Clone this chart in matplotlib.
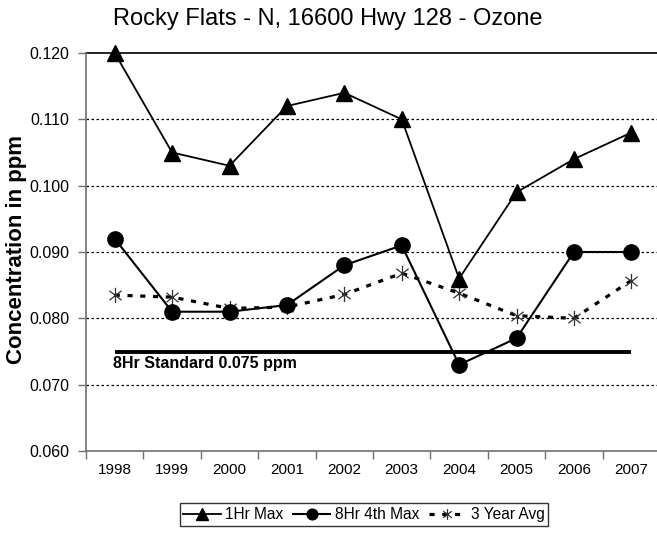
import matplotlib
matplotlib.use("Agg")
import matplotlib.pyplot as plt
from matplotlib.path import Path

# ---- data -------------------------------------------------------------
years = ["1998", "1999", "2000", "2001", "2002", "2003", "2004", "2005", "2006", "2007"]
one_hr_max = [0.120, 0.105, 0.103, 0.112, 0.114, 0.110, 0.086, 0.099, 0.104, 0.108]
eight_hr_4th_max = [0.092, 0.081, 0.081, 0.082, 0.088, 0.091, 0.073, 0.077, 0.090, 0.090]
three_year_avg = [0.0835, 0.0832, 0.0815, 0.0817, 0.0836, 0.0868, 0.0838, 0.0804, 0.0800, 0.0857]
standard_8hr = 0.075
y_ticks = [0.060, 0.070, 0.080, 0.090, 0.100, 0.110, 0.120]

FONT = ["Liberation Sans", "DejaVu Sans"]
plt.rcParams["font.family"] = FONT

W, H = 657, 533
fig = plt.figure(figsize=(W / 100, H / 100), dpi=100)

# plot area in pixel coordinates (left, top, right, bottom)
left, top, right, bottom = 86, 53, 660, 451
ax = fig.add_axes([left / W, 1 - bottom / H, (right - left) / W, (bottom - top) / H])

x = list(range(len(years)))

# asterisk-style marker: vertical bar plus an X
star_path = Path(
    [(0, -1), (0, 1), (-0.8, -0.62), (0.8, 0.62), (-0.8, 0.62), (0.8, -0.62)],
    [Path.MOVETO, Path.LINETO, Path.MOVETO, Path.LINETO, Path.MOVETO, Path.LINETO],
)

# horizontal grid
for v in y_ticks[1:-1]:
    ax.axhline(v, color="black", lw=0.9, linestyle=(0, (2, 2)), zorder=1)
ax.axhline(y_ticks[-1], color="black", lw=1.2, zorder=1, clip_on=False)

# 8-hour standard
ax.plot([x[0], x[-1]], [standard_8hr, standard_8hr], color="black", lw=2.8,
        solid_capstyle="butt", zorder=2)
ax.text(x[0] - 0.03, standard_8hr - 0.0007, "8Hr Standard 0.075 ppm",
        fontsize=11.5, fontweight="bold", va="top", ha="left", zorder=3)

l1, = ax.plot(x, one_hr_max, color="black", lw=1.3, marker="^", markersize=12,
              markerfacecolor="black", markeredgecolor="black", zorder=5,
              clip_on=False, label="1Hr Max")
l2, = ax.plot(x, eight_hr_4th_max, color="black", lw=1.5, marker="o", markersize=11,
              markerfacecolor="black", markeredgecolor="black", zorder=4,
              clip_on=False, label="8Hr 4th Max")
l3, = ax.plot(x, three_year_avg, color="black", lw=2.3, linestyle=(0, (1.6, 2.4)),
              marker=star_path, markersize=11, markerfacecolor="none",
              markeredgecolor="#303030", markeredgewidth=0.9, zorder=3,
              clip_on=False, label="3 Year Avg")

ax.set_xlim(-0.5, len(years) - 0.5)
ax.set_ylim(y_ticks[0], y_ticks[-1])

ax.set_yticks(y_ticks)
ax.set_yticklabels([f"{v:.3f}" for v in y_ticks], fontsize=11.5)
ax.set_xticks(x)
ax.set_xticklabels(years, fontsize=11)
ax.set_xticks([i - 0.5 for i in range(len(years) + 1)], minor=True)

ax.tick_params(axis="y", direction="out", length=6, width=1, color="#707070", pad=6)
ax.tick_params(axis="x", which="major", length=0, pad=9)
ax.tick_params(axis="x", which="minor", direction="out", length=6, width=1, color="#707070")

for side in ("top", "right"):
    ax.spines[side].set_visible(False)
for side in ("left", "bottom"):
    ax.spines[side].set_color("#707070")
    ax.spines[side].set_linewidth(1.2)

fig.text(17 / W, 1 - 249 / H, "Concentration in ppm", fontsize=16, fontweight="bold",
         rotation=90, ha="center", va="center")

fig.text(328 / W, 1 - 19 / H, "Rocky Flats - N, 16600 Hwy 128 - Ozone",
         fontsize=17, ha="center", va="center")

leg = fig.legend(handles=[l1, l2, l3], loc="center", ncol=3,
                 bbox_to_anchor=(364 / W, 1 - 514.5 / H), fontsize=11.2,
                 frameon=True, fancybox=False, edgecolor="black",
                 handlelength=2.4, handletextpad=0.3, columnspacing=0.6,
                 borderpad=0.25, numpoints=1, markerscale=0.7)
leg.get_frame().set_linewidth(1.0)

fig.savefig("out.png", dpi=100)
